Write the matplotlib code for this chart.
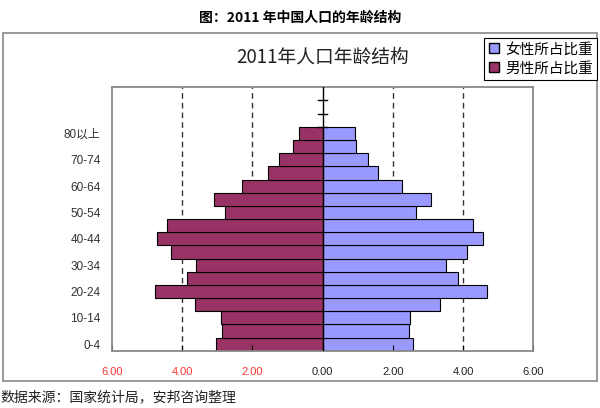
import numpy as np
import matplotlib
matplotlib.use('Agg')
import matplotlib.pyplot as plt
from matplotlib.patches import Patch, Rectangle

# 2011年中国人口年龄结构 (占总人口 %)
ages = ['0-4', '5-9', '10-14', '15-19', '20-24', '25-29', '30-34', '35-39',
        '40-44', '45-49', '50-54', '55-59', '60-64', '65-69', '70-74', '75-79', '80以上']
male = [3.03, 2.87, 2.89, 3.64, 4.78, 3.87, 3.59, 4.30, 4.72, 4.43,
        2.77, 3.10, 2.29, 1.56, 1.24, 0.85, 0.66]
female = [2.57, 2.45, 2.49, 3.34, 4.67, 3.85, 3.50, 4.10, 4.57, 4.29,
          2.66, 3.08, 2.26, 1.58, 1.28, 0.96, 0.93]
xticks = [-6, -4, -2, 0, 2, 4, 6]

cjk = ['Noto Sans CJK SC', 'DejaVu Sans']
latin = ['Liberation Sans', 'Noto Sans CJK SC']

fig = plt.figure(figsize=(6, 4.08), dpi=100)
ax = fig.add_axes([0.1862, 0.1404, 0.7027, 0.6456])

y = np.arange(len(ages))
ax.barh(y, [-m for m in male], height=1.0, color='#993366', edgecolor='black', linewidth=0.8)
ax.barh(y, female, height=1.0, color='#9999FF', edgecolor='black', linewidth=0.8)

# 虚线网格
for v in [-4, -2, 2, 4]:
    ax.axvline(v, color='#333333', linestyle=(0, (4, 3)), linewidth=1, zorder=0)

# 中轴线 + 刻度
ax.axvline(0, color='black', linewidth=1, zorder=3)
nslots = 20
for b in np.arange(len(ages), nslots) - 0.5:
    ax.plot([-0.12, 0.12], [b, b], color='black', linewidth=1, zorder=3)

ax.set_xlim(-6, 6)
ax.set_ylim(-0.5, nslots - 0.5)

ax.set_xticks(xticks)
ax.set_xticklabels(['%.2f' % abs(v) for v in xticks], family=latin, fontsize=8)
for lab, v in zip(ax.get_xticklabels(), xticks):
    lab.set_color('#FF3333' if v < 0 else '#222222')
ax.tick_params(axis='x', direction='in', length=4, pad=12, color='black')

ax.set_yticks(y[::2])
ax.set_yticklabels(ages[::2], family=latin, fontsize=8.5, color='#333333')
ax.tick_params(axis='y', length=0, pad=8)

for s in ['left', 'right', 'top', 'bottom']:
    ax.spines[s].set_color('#888888')
    ax.spines[s].set_linewidth(1.3)

ax.set_title('2011年人口年龄结构', family=cjk, fontsize=13.5, color='#222222', pad=18)

# 外框
fig.patches.append(Rectangle((0.005, 0.066), 0.99, 0.853, transform=fig.transFigure,
                             fill=False, edgecolor='#888888', linewidth=1.2, zorder=0))

handles = [Patch(facecolor='#9999FF', edgecolor='black', label='女性所占比重'),
           Patch(facecolor='#993366', edgecolor='black', label='男性所占比重')]
leg = fig.legend(handles=handles, loc='upper right', bbox_to_anchor=(0.995, 1 - 38 / 408),
                 prop={'family': cjk, 'size': 10.5}, fancybox=False, edgecolor='black',
                 framealpha=1, borderaxespad=0, handlelength=0.7, handleheight=0.7,
                 handletextpad=0.4, borderpad=0.3, labelspacing=0.35)
leg.get_frame().set_linewidth(0.8)

fig.text(0.5, 1 - 18 / 408, '图：2011 年中国人口的年龄结构', family=cjk, fontsize=10,
         fontweight='bold', ha='center', va='center')
fig.text(0.0, 1 - 397 / 408, '数据来源：国家统计局，安邦咨询整理', family=cjk, fontsize=10,
         ha='left', va='center', color='#222222')

fig.savefig('out.png', dpi=100)
